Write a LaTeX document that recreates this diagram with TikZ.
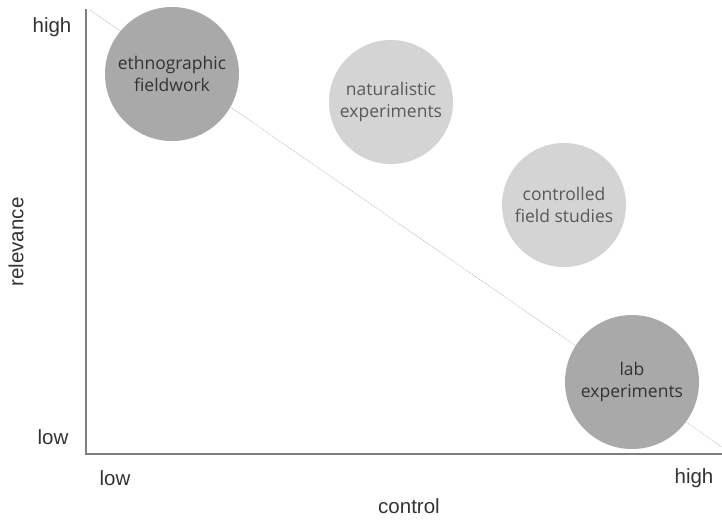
\documentclass[tikz,border=0pt]{standalone}
\usepackage{fontspec}
\setmainfont{Liberation Sans}
\newfontfamily\bubblefont{Open Sans}
\usepackage{tikz}
\usetikzlibrary{positioning}

\definecolor{darkbubble}{HTML}{A9A9A9}
\definecolor{lightbubble}{HTML}{D4D4D4}
\definecolor{axisgray}{HTML}{7E7E7E}

\begin{document}
\begin{tikzpicture}[x=1pt,y=-1pt,
    bubble/.style={circle,inner sep=0pt,minimum size=#1,align=center,font=\bubblefont\fontsize{17.5}{22}\selectfont},
    axislabel/.style={font=\fontsize{20.5}{24}\selectfont,text=black!80}]
  \useasboundingbox[fill=white] (0,0) rectangle (722,519);
  % axes
  \coordinate (origin) at (86,454);
  \coordinate (ytop) at (86,9);
  \coordinate (xend) at (722,454);
  \coordinate (dtop) at (90,10);
  \coordinate (dend) at (722,447);
  \draw[black!25,densely dotted,line width=0.8pt] (dtop) -- (dend);
  % bubbles
  \node[bubble=134pt,fill=darkbubble,text=black!80](ethno) at (172,74){ethnographic\\fieldwork};
  \node[bubble=124pt,fill=lightbubble,text=black!65](natural) at (391,102){naturalistic\\experiments};
  \node[bubble=124pt,fill=lightbubble,text=black!65](field) at (564,205){controlled\\field studies};
  \node[bubble=134pt,fill=darkbubble,text=black!80](lab) at (632,382){lab\\experiments};
  \draw[axisgray,line width=2pt] (ytop) -- (origin) -- (xend);
  % labels
  \node[axislabel](yhigh) at (52,27){high};
  \node[axislabel](ylow) at (53,437){low};
  \node[axislabel,rotate=90](yname) at (16,242){relevance};
  \node[axislabel](xlow) at (115,478){low};
  \node[axislabel](xhigh) at (694,478){high};
  \node[axislabel](xname) at (409,506){control};
\end{tikzpicture}
\end{document}
